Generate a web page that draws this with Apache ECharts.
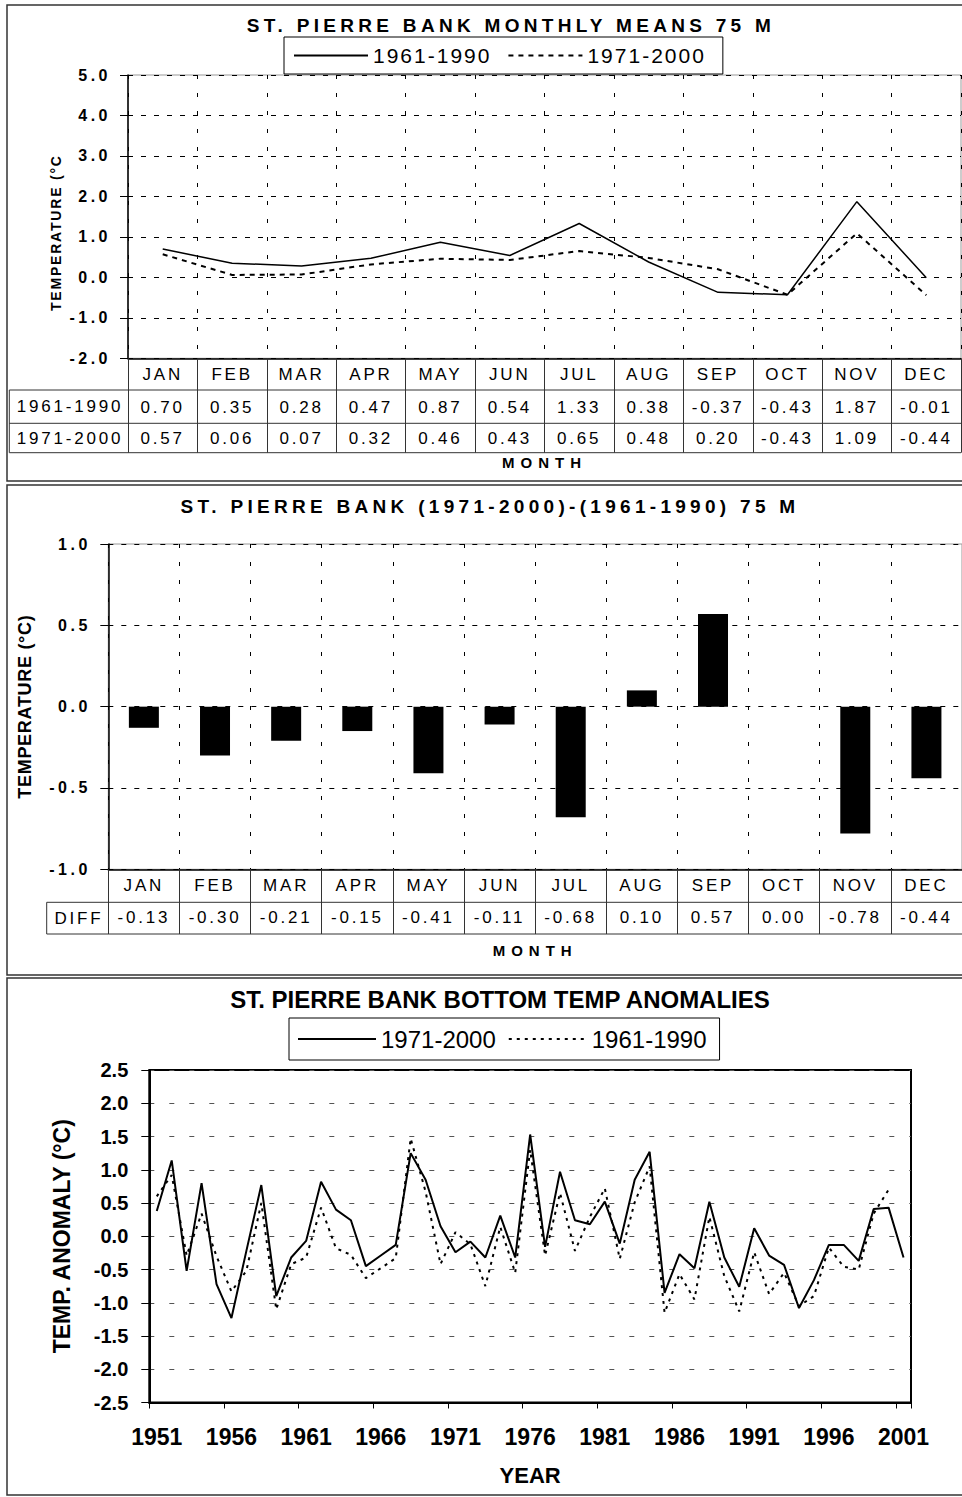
<!DOCTYPE html>
<html>
<head>
<meta charset="utf-8">
<title>St. Pierre Bank 75 m</title>
<script src="https://cdn.jsdelivr.net/npm/echarts@6/dist/echarts.min.js"></script>
<style>
html, body { margin: 0; padding: 0; background: #fff; }
#main { width: 962px; height: 1497px; }
/* wide tracking of the two upper panels (svg text) */
#main text[style*="19px"] { letter-spacing: 4.3px; }
#main text[style*="21px"] { letter-spacing: 2px; }
#main text[style*="17px"] { letter-spacing: 2.8px; }
#main text[style*="16px"] { letter-spacing: 3.5px; }
#main text[style*="14px"] { letter-spacing: 1.8px; }
#main text[style*="18px"] { letter-spacing: 0.7px; }
#main text[style*="15px"] { letter-spacing: 6px; }
</style>
</head>
<body>
<div id="main"></div>
<script>
// monthly means, 75 m
var months = ['JAN', 'FEB', 'MAR', 'APR', 'MAY', 'JUN', 'JUL', 'AUG', 'SEP', 'OCT', 'NOV', 'DEC'];
var periods = ['1961-1990', '1971-2000'];
var means6190 = [0.70, 0.35, 0.28, 0.47, 0.87, 0.54, 1.33, 0.38, -0.37, -0.43, 1.87, -0.01];
var means7100 = [0.57, 0.06, 0.07, 0.32, 0.46, 0.43, 0.65, 0.48, 0.20, -0.43, 1.09, -0.44];

// (1971-2000)-(1961-1990)
var diffLabel = 'DIFF';
var diffs = [-0.13, -0.30, -0.21, -0.15, -0.41, -0.11, -0.68, 0.10, 0.57, 0.00, -0.78, -0.44];

// bottom temperature anomalies
var years = [];
for (var y = 1951; y <= 2001; y++) {
    years.push(String(y));
}
var anom7100 = [0.38, 1.14, -0.52, 0.80, -0.72, -1.23, -0.22, 0.77, -0.90, -0.32,
    -0.07, 0.82, 0.40, 0.24, -0.45, -0.29, -0.13, 1.25, 0.85, 0.15,
    -0.24, -0.08, -0.32, 0.31, -0.32, 1.53, -0.16, 0.97, 0.24, 0.18,
    0.52, -0.11, 0.85, 1.27, -0.85, -0.27, -0.48, 0.52, -0.32, -0.76,
    0.12, -0.29, -0.43, -1.08, -0.66, -0.13, -0.13, -0.37, 0.41, 0.43,
    -0.32];
var anom6190 = [0.60, 0.92, -0.29, 0.34, -0.30, -0.83, -0.52, 0.50, -1.10, -0.42,
    -0.32, 0.43, -0.18, -0.28, -0.63, -0.48, -0.33, 1.47, 0.67, -0.42,
    0.06, -0.12, -0.75, 0.14, -0.55, 1.30, -0.29, 0.65, -0.22, 0.29,
    0.72, -0.34, 0.51, 1.05, -1.15, -0.57, -0.95, 0.29, -0.60, -1.13,
    -0.24, -0.87, -0.55, -1.05, -0.90, -0.17, -0.46, -0.50, 0.34, 0.70,
    null];

var FONT = 'Liberation Sans';
var legendNames = {m6190: periods[0], m7100: periods[1], a7100: periods[1], a6190: periods[0]};

var stPierre = {};

stPierre.tableLine = function (x1, y1, x2, y2) {
    return {
        type: 'line', silent: true,
        shape: {x1: x1, y1: y1, x2: x2, y2: y2},
        style: {stroke: '#333', lineWidth: 1}
    };
};
stPierre.cellText = function (text, x, y) {
    return {
        type: 'text', silent: true, x: x, y: y,
        style: {text: text, fontSize: 17, fontFamily: FONT, fill: '#000', textAlign: 'center', textVerticalAlign: 'middle'}
    };
};
stPierre.panel = function (top, height) {
    return {
        type: 'rect', silent: true,
        shape: {x: 7, y: top, width: 960, height: height},
        style: {fill: 'none', stroke: '#333', lineWidth: 1.5}
    };
};
// one value row of a table under a month axis
stPierre.rowAxis = function (gridIndex, offset, values) {
    return {
        type: 'category', gridIndex: gridIndex, position: 'bottom', offset: offset,
        data: months, boundaryGap: true,
        axisLine: {show: false, onZero: false}, axisTick: {show: false}, splitLine: {show: false},
        axisLabel: {
            interval: 0, margin: 16, fontSize: 17, color: '#000', verticalAlign: 'middle',
            formatter: function (v, i) { return values[i].toFixed(2); }
        }
    };
};

stPierre.render = function () {
    var myChart = echarts.init(document.getElementById('main'), null, {renderer: 'svg'});
    var option = {
        animation: false,
        textStyle: {fontFamily: FONT, color: '#000'},
        title: [
            {text: 'ST. PIERRE BANK MONTHLY MEANS 75 M', left: 511, top: 16, textAlign: 'center', padding: 0,
                textStyle: {fontSize: 19, fontWeight: 'bold', color: '#000'}},
            {text: 'ST. PIERRE BANK (1971-2000)-(1961-1990) 75 M', left: 490, top: 497, textAlign: 'center', padding: 0,
                textStyle: {fontSize: 19, fontWeight: 'bold', color: '#000'}},
            {text: 'ST. PIERRE BANK BOTTOM TEMP ANOMALIES', left: 500, top: 987, textAlign: 'center', padding: 0,
                textStyle: {fontSize: 24, fontWeight: 'bold', color: '#000'}}
        ],
        legend: [
            {
                data: ['m6190', 'm7100'], left: 284, top: 37, padding: [8, 35, 8, 9],
                itemWidth: 74, itemHeight: 14, itemGap: 34, selectedMode: false,
                borderColor: '#000', borderWidth: 1, backgroundColor: '#fff',
                itemStyle: {opacity: 0},
                textStyle: {fontSize: 21, color: '#000'},
                formatter: function (name) { return legendNames[name]; }
            },
            {
                data: ['a7100', 'a6190'], left: 289, top: 1018, padding: [9, 13, 9, 8],
                itemWidth: 78, itemHeight: 14, itemGap: 12, selectedMode: false,
                borderColor: '#000', borderWidth: 1, backgroundColor: '#fff',
                itemStyle: {opacity: 0},
                textStyle: {fontSize: 24, color: '#000'},
                formatter: function (name) { return legendNames[name]; }
            }
        ],
        grid: [
            {left: 128, top: 75, width: 833, height: 283.3, show: true, borderColor: '#999', borderWidth: 1},
            {left: 108.3, top: 544, width: 855, height: 325.3, show: true, borderColor: '#999', borderWidth: 1},
            {left: 149.3, top: 1070, width: 761.7, height: 332.5, show: true, borderColor: '#000', borderWidth: 2}
        ],
        xAxis: [
            {
                type: 'category', gridIndex: 0, data: months, boundaryGap: true,
                axisLine: {onZero: false, lineStyle: {color: '#000', width: 1.5}},
                axisTick: {show: true, alignWithLabel: false, interval: 0, length: 94.4, lineStyle: {color: '#333', width: 1}},
                axisLabel: {interval: 0, margin: 16, fontSize: 17, color: '#000', verticalAlign: 'middle'},
                splitLine: {show: true, lineStyle: {color: '#000', type: [4, 14], width: 1}},
                name: 'MONTH', nameLocation: 'middle', nameGap: 104,
                nameTextStyle: {fontSize: 15, fontWeight: 'bold', color: '#000', verticalAlign: 'middle'}
            },
            stPierre.rowAxis(0, 33, means6190),
            stPierre.rowAxis(0, 64.5, means7100),
            {
                type: 'category', gridIndex: 1, data: months, boundaryGap: true,
                axisLine: {onZero: false, lineStyle: {color: '#000', width: 1.5}},
                axisTick: {show: true, alignWithLabel: false, interval: 0, length: 64.7, lineStyle: {color: '#333', width: 1}},
                axisLabel: {interval: 0, margin: 16.5, fontSize: 17, color: '#000', verticalAlign: 'middle'},
                splitLine: {show: true, lineStyle: {color: '#000', type: [4, 14], width: 1}},
                name: 'MONTH', nameLocation: 'middle', nameGap: 81,
                nameTextStyle: {fontSize: 15, fontWeight: 'bold', color: '#000', verticalAlign: 'middle'}
            },
            stPierre.rowAxis(1, 32.5, diffs),
            {
                type: 'category', gridIndex: 2, data: years, boundaryGap: true,
                axisLine: {onZero: false, lineStyle: {color: '#000', width: 2}},
                axisTick: {show: true, alignWithLabel: false, interval: 4, length: 6, lineStyle: {color: '#000', width: 1}},
                axisLabel: {interval: 4, margin: 34.5, fontSize: 23, fontWeight: 'bold', color: '#000', verticalAlign: 'middle'},
                splitLine: {show: false},
                name: 'YEAR', nameLocation: 'middle', nameGap: 72.5,
                nameTextStyle: {fontSize: 22, fontWeight: 'bold', color: '#000', verticalAlign: 'middle'}
            }
        ],
        yAxis: [
            {
                type: 'value', gridIndex: 0, min: -2, max: 5, interval: 1,
                axisLine: {show: true, lineStyle: {color: '#000', width: 1.5}},
                axisTick: {show: true, length: 8, lineStyle: {color: '#000'}},
                axisLabel: {margin: 17, fontSize: 16, fontWeight: 'bold', color: '#000',
                    formatter: function (v) { return v.toFixed(1); }},
                splitLine: {lineStyle: {color: '#000', type: [5, 8], width: 1}},
                name: 'TEMPERATURE (°C', nameLocation: 'middle', nameGap: 72,
                nameTextStyle: {fontSize: 14, fontWeight: 'bold', color: '#000', verticalAlign: 'middle',
                    padding: [0, 32, 0, 0]}
            },
            {
                type: 'value', gridIndex: 1, min: -1, max: 1, interval: 0.5,
                axisLine: {show: true, lineStyle: {color: '#000', width: 1.5}},
                axisTick: {show: true, length: 8, lineStyle: {color: '#000'}},
                axisLabel: {margin: 17.5, fontSize: 16, fontWeight: 'bold', color: '#000',
                    formatter: function (v) { return v.toFixed(1); }},
                splitLine: {lineStyle: {color: '#000', type: [5, 8], width: 1}},
                name: 'TEMPERATURE (°C)', nameLocation: 'middle', nameGap: 83,
                nameTextStyle: {fontSize: 18, fontWeight: 'bold', color: '#000', verticalAlign: 'middle'}
            },
            {
                type: 'value', gridIndex: 2, min: -2.5, max: 2.5, interval: 0.5,
                axisLine: {show: true, lineStyle: {color: '#000', width: 2}},
                axisTick: {show: true, length: 8, lineStyle: {color: '#000'}},
                axisLabel: {margin: 21, fontSize: 20, fontWeight: 'bold', color: '#000',
                    formatter: function (v) { return v.toFixed(1); }},
                splitLine: {lineStyle: {color: '#555', type: [5, 15], width: 1}},
                name: 'TEMP. ANOMALY (°C)', nameLocation: 'middle', nameGap: 87,
                nameTextStyle: {fontSize: 23, fontWeight: 'bold', color: '#000', verticalAlign: 'middle'}
            }
        ],
        series: [
            {name: 'm6190', type: 'line', xAxisIndex: 0, yAxisIndex: 0, data: means6190, symbol: 'none',
                itemStyle: {color: '#000'}, lineStyle: {color: '#000', width: 1.5}},
            {name: 'm7100', type: 'line', xAxisIndex: 0, yAxisIndex: 0, data: means7100, symbol: 'none',
                itemStyle: {color: '#000'}, lineStyle: {color: '#000', width: 2, type: [5, 5]}},
            {name: 'diff', type: 'bar', xAxisIndex: 3, yAxisIndex: 1, data: diffs, barWidth: 30,
                itemStyle: {color: '#000'}},
            {name: 'a7100', type: 'line', xAxisIndex: 5, yAxisIndex: 2, data: anom7100, symbol: 'none',
                itemStyle: {color: '#000'}, lineStyle: {color: '#000', width: 2}},
            {name: 'a6190', type: 'line', xAxisIndex: 5, yAxisIndex: 2, data: anom6190, symbol: 'none',
                itemStyle: {color: '#000'}, lineStyle: {color: '#000', width: 2, type: [3, 5]}}
        ],
        graphic: [
            stPierre.panel(5, 476),
            stPierre.panel(485, 490),
            stPierre.panel(978, 517),
            // table of panel 1
            stPierre.tableLine(9.3, 390, 961, 390),
            stPierre.tableLine(9.3, 423.3, 961, 423.3),
            stPierre.tableLine(9.3, 452.7, 961, 452.7),
            stPierre.tableLine(9.3, 390, 9.3, 452.7),
            stPierre.cellText(periods[0], 70, 406.7),
            stPierre.cellText(periods[1], 70, 438),
            // table of panel 2
            stPierre.tableLine(46.7, 902.3, 963, 902.3),
            stPierre.tableLine(46.7, 934, 963, 934),
            stPierre.tableLine(46.7, 902.3, 46.7, 934),
            stPierre.cellText(diffLabel, 79, 918)
        ]
    };
    myChart.setOption(option);
};

stPierre.render();
</script>
</body>
</html>
